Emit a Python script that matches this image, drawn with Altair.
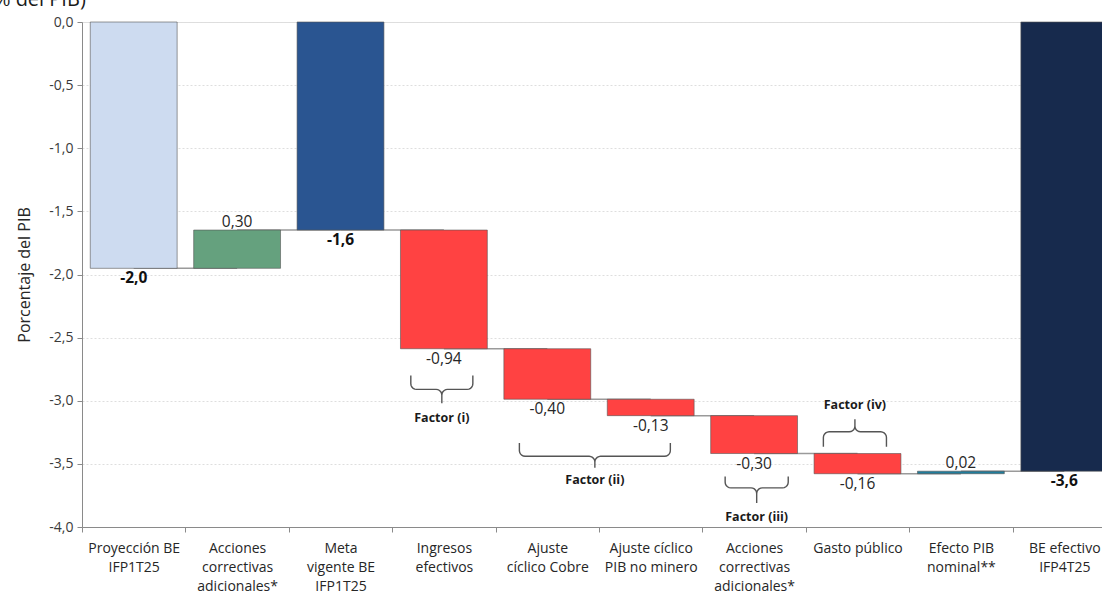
import json

import altair as alt
import numpy as np
import pandas as pd

FONT = "Open Sans"

# Category labels, one inner list per axis label (one entry per line)
label_lines = [
    ["Proyección BE", "IFP1T25"],
    ["Acciones", "correctivas", "adicionales*"],
    ["Meta", "vigente BE", "IFP1T25"],
    ["Ingresos", "efectivos"],
    ["Ajuste", "cíclico Cobre"],
    ["Ajuste cíclico", "PIB no minero"],
    ["Acciones", "correctivas", "adicionales*"],
    ["Gasto público"],
    ["Efecto PIB", "nominal**"],
    ["BE efectivo", "IFP4T25"],
]
# "total" bars start at zero, "delta" bars start at the running balance
kinds = ["total", "delta", "total", "delta", "delta", "delta", "delta", "delta", "delta", "total"]
values = [-1.951, 0.303, -1.648, -0.94, -0.40, -0.13, -0.30, -0.16, 0.02, -3.558]
bar_colors = ["#CDDBF0", "#65A17E", "#2A5591", "#FF4242", "#FF4242", "#FF4242",
              "#FF4242", "#FF4242", "#1F7D9C", "#172A4D"]

# Brace annotations (x in category units, y in % of GDP)
brace_names = ["Factor (i)", "Factor (ii)", "Factor (iii)", "Factor (iv)"]
brace_x0 = [3.18, 4.23, 6.22, 7.17]
brace_x1 = [3.78, 5.69, 6.83, 7.78]
brace_end = [-2.80, -3.335, -3.60, -3.365]
brace_mid = [-2.91, -3.44, -3.69, -3.246]
brace_tip = [-3.02, -3.53, -3.81, -3.147]
brace_label_y = [-3.14, -3.63, -3.92, -3.03]

y_ticks = [0.0, -0.5, -1.0, -1.5, -2.0, -2.5, -3.0, -3.5, -4.0]

N = len(values)
PLOT_W = 1020          # visible plot width
RANGE_W = 1034         # full width of the ten category bands
PLOT_H = 505

TEXT_DARK = "#262626"

# ---- waterfall geometry -------------------------------------------------
rows = []
running = 0.0
for i, (k, v) in enumerate(zip(kinds, values)):
    if k == "total":
        start, end = 0.0, v
        text = f"{v:.1f}".replace(".", ",")
    else:
        start, end = running, running + v
        text = f"{v:.2f}".replace(".", ",")
    running = end
    rows.append(dict(idx=i, start=start, end=end, lo=min(start, end), hi=max(start, end),
                     color=bar_colors[i], text=text, kind=k, up=v > 0))
bars_df = pd.DataFrame(rows)

conn_df = pd.DataFrame(dict(
    x0=[i + 0.5 for i in range(N - 1)],
    x1=[i + 1.5 for i in range(N - 1)],
    level=[r["end"] for r in rows[:-1]],
))


def brace_path(x0, x1, y_end, y_mid, y_tip, rx=0.055, ry=0.045):
    """Points of a horizontal curly brace, traced left end -> tip -> right end."""
    s = 1.0 if y_tip > y_mid else -1.0      # direction in which the tip points
    xc = (x0 + x1) / 2
    t = np.linspace(0, np.pi / 2, 6)
    pts = [(x0, y_end)]
    # left hook
    pts += [(x0 + rx - rx * np.cos(a), y_mid - s * ry + s * ry * np.sin(a)) for a in t]
    # curl into the tip
    pts += [(xc - rx + rx * np.sin(a), y_mid + s * ry - s * ry * np.cos(a)) for a in t]
    pts += [(xc, y_tip)]
    pts += [(xc + rx - rx * np.sin(a), y_mid + s * ry - s * ry * np.cos(a)) for a in t[::-1]]
    # right hook
    pts += [(x1 - rx + rx * np.cos(a), y_mid - s * ry + s * ry * np.sin(a)) for a in t[::-1]]
    pts += [(x1, y_end)]
    return pts


brace_rows = []
for b, name in enumerate(brace_names):
    for j, (px, py) in enumerate(brace_path(brace_x0[b], brace_x1[b], brace_end[b],
                                             brace_mid[b], brace_tip[b])):
        brace_rows.append(dict(brace=name, order=j, x=px, y=py))
brace_df = pd.DataFrame(brace_rows)
brace_text_df = pd.DataFrame(dict(
    name=brace_names,
    x=[(a + b) / 2 for a, b in zip(brace_x0, brace_x1)],
    y=brace_label_y,
))

# ---- scales -------------------------------------------------------------
y_scale = alt.Scale(domain=[-4, 0], nice=False, zero=False)
band_scale = alt.Scale(domain=list(range(N)), range=[0, RANGE_W], paddingInner=0, paddingOuter=0)
lin_scale = alt.Scale(domain=[0, N], range=[0, RANGE_W], nice=False, zero=False)

label_expr = json.dumps(label_lines, ensure_ascii=False) + "[datum.value]"

x_axis = alt.Axis(
    title=None, labelExpr=label_expr, labelAngle=0, tickBand="extent",
    tickSize=5, tickColor="#8a8a8a", domainColor="#8a8a8a", labelFont=FONT,
    labelFontSize=14, labelColor=TEXT_DARK, labelPadding=9, labelLineHeight=19,
    labelBaseline="top", grid=False,
)
y_axis = alt.Axis(
    values=y_ticks,
    labelExpr="replace(replace(format(datum.value, '.1f'), '.', ','), '\u2212', '-')",
    title="Porcentaje del PIB", titleFont=FONT, titleFontSize=16, titleFontWeight="normal",
    titleColor=TEXT_DARK, titlePadding=16, labelFont=FONT, labelFontSize=14,
    labelColor="#3a3a3a", labelPadding=4, tickSize=5, tickColor="#8a8a8a",
    domainColor="#8a8a8a", grid=True, gridDash=[2, 2], gridColor="#dedede",
)

base_bars = alt.Chart(bars_df)

connectors = alt.Chart(conn_df).mark_rule(color="#9a9a9a", strokeWidth=1.5).encode(
    x=alt.X("x0:Q", scale=lin_scale, axis=None),
    x2="x1:Q",
    y=alt.Y("level:Q", scale=y_scale, axis=y_axis),
)

bars = base_bars.mark_bar(
    width=alt.RelativeBandSize(0.84), stroke="#555555", strokeWidth=1, strokeOpacity=0.6
).encode(
    x=alt.X("idx:O", scale=band_scale, axis=x_axis, sort=None),
    y=alt.Y("lo:Q", scale=y_scale),
    y2="hi:Q",
    color=alt.Color("color:N", scale=None),
)

x_plain = alt.X("idx:O", scale=band_scale, axis=None, sort=None)

labels_below = base_bars.transform_filter(
    "datum.kind == 'delta' && !datum.up"
).mark_text(font=FONT, fontSize=15.5, color=TEXT_DARK, baseline="top", dy=3).encode(
    x=x_plain, y=alt.Y("lo:Q", scale=y_scale), text="text:N",
)
labels_above = base_bars.transform_filter(
    "datum.kind == 'delta' && datum.up"
).mark_text(font=FONT, fontSize=15.5, color=TEXT_DARK, baseline="bottom", dy=0).encode(
    x=x_plain, y=alt.Y("hi:Q", scale=y_scale), text="text:N",
)
labels_total = base_bars.transform_filter(
    "datum.kind == 'total'"
).mark_text(font=FONT, fontSize=15.5, fontWeight="bold", color="#111111",
            baseline="top", dy=3).encode(
    x=x_plain, y=alt.Y("lo:Q", scale=y_scale), text="text:N",
)

braces = alt.Chart(brace_df).mark_line(color="#555555", strokeWidth=1.4).encode(
    x=alt.X("x:Q", scale=lin_scale, axis=None),
    y=alt.Y("y:Q", scale=y_scale),
    detail="brace:N",
    order="order:Q",
)
brace_text = alt.Chart(brace_text_df).mark_text(
    font=FONT, fontSize=12.5, fontWeight="bold", color="#1a1a1a"
).encode(
    x=alt.X("x:Q", scale=lin_scale, axis=None),
    y=alt.Y("y:Q", scale=y_scale),
    text="name:N",
)

unit_title = alt.Chart(alt.Data(values=[{}])).mark_text(
    text="(% del PIB)", font=FONT, fontSize=20, color="#1a1a1a",
    align="left", baseline="alphabetic",
).encode(x=alt.value(-94), y=alt.value(-16))

chart = alt.layer(
    connectors, bars, labels_below, labels_above, labels_total, braces, brace_text, unit_title
).resolve_scale(x="independent").properties(
    width=PLOT_W,
    height=PLOT_H,
    autosize=alt.AutoSizeParams(type="none"),
    padding={"left": 82, "top": 22, "right": 0, "bottom": 66},
).configure_view(stroke=None).configure(font=FONT)

chart.save("out.html", embed_options={"renderer": "svg", "actions": False})
